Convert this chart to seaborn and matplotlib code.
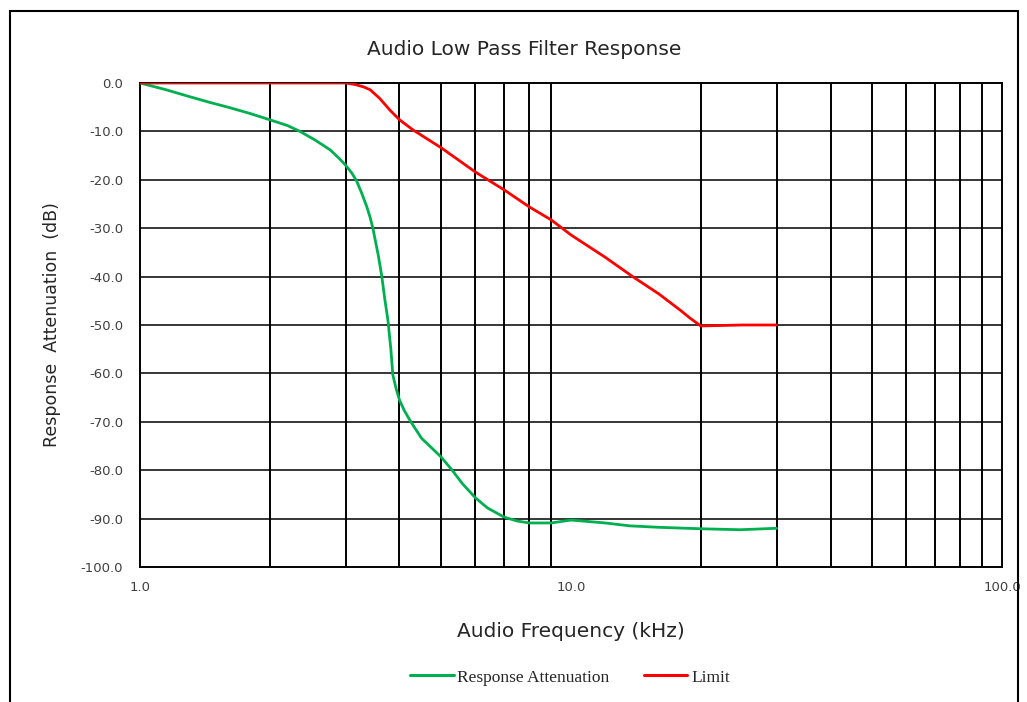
import matplotlib
matplotlib.use("Agg")
import matplotlib.pyplot as plt
import numpy as np
import pandas as pd
import seaborn as sns
from matplotlib.patches import Rectangle
from matplotlib.lines import Line2D

# response attenuation (kHz, dB)
resp_freq = [1.0, 1.15, 1.3, 1.45, 1.6, 1.8, 2.0, 2.2, 2.35, 2.55, 2.76, 2.9, 3.0,
             3.1, 3.18, 3.27, 3.36, 3.42, 3.47, 3.52, 3.57, 3.64, 3.70, 3.76, 3.82,
             3.86, 3.93, 4.0, 4.1, 4.25, 4.5, 4.75, 5.0, 5.3, 5.6, 6.0, 6.4, 7.0,
             7.5, 8.0, 9.0, 10.0, 12.0, 13.7, 16.0, 20.0, 24.7, 30.0]
resp_db = [0.0, -1.4, -2.8, -4.0, -5.0, -6.3, -7.6, -8.8, -10.0, -11.8, -13.8,
           -15.6, -17.0, -18.6, -20.2, -22.8, -25.6, -27.8, -30.0, -32.8, -35.5,
           -40.0, -44.8, -49.0, -55.0, -60.3, -63.2, -65.5, -67.6, -70.0, -73.4,
           -75.4, -77.3, -80.0, -82.8, -85.7, -87.8, -89.7, -90.5, -90.9, -90.9,
           -90.3, -90.9, -91.5, -91.8, -92.1, -92.3, -92.0]

# limit mask (kHz, dB)
limit_freq = [1.0, 2.0, 2.8, 3.0, 3.15, 3.3, 3.42, 3.6, 3.8, 4.0, 4.3, 5.0, 6.0,
              7.0, 8.0, 9.0, 10.0, 12.0, 13.9, 16.0, 17.9, 18.9, 20.0, 25.0, 30.0]
limit_db = [0.0, 0.0, 0.0, 0.0, -0.3, -0.8, -1.4, -3.2, -5.6, -7.6, -9.7, -13.4,
            -18.4, -22.1, -25.6, -28.3, -31.4, -36.0, -40.0, -43.6, -46.9, -48.6,
            -50.2, -50.0, -50.0]

y_ticks = np.arange(-100, 1, 10)

df = pd.concat([
    pd.DataFrame({"freq": resp_freq, "db": resp_db, "series": "Response Attenuation"}),
    pd.DataFrame({"freq": limit_freq, "db": limit_db, "series": "Limit"}),
])

sns.set_style("white")
fig = plt.figure(figsize=(10.27, 7.02), dpi=100)
ax = fig.add_axes([0.1363, 0.1923, 0.8394, 0.6895])

sns.lineplot(data=df, x="freq", y="db", hue="series", sort=False,
             palette={"Response Attenuation": "#00B050", "Limit": "#FF0000"},
             linewidth=2.0, legend=False, ax=ax, zorder=3)

ax.set_xscale("log")
ax.set_xlim(1, 100)
ax.set_ylim(-100, 0)

# black grid on every decade subdivision
for f in list(range(2, 10)) + list(range(20, 100, 10)):
    ax.axvline(f, color="black", lw=1.4, zorder=1)
for v in y_ticks[1:-1]:
    ax.axhline(v, color="black", lw=1.1, zorder=1)
for s in ax.spines.values():
    s.set_color("black")
    s.set_linewidth(1.4)

ax.set_xticks([1, 10, 100])
ax.set_xticklabels(["1.0", "10.0", "100.0"])
ax.xaxis.set_minor_locator(matplotlib.ticker.NullLocator())
ax.set_yticks(y_ticks)
ax.set_yticklabels([f"{v:.1f}" for v in y_ticks])
ax.tick_params(axis="both", length=0, labelsize=9.5, labelcolor="#404040")
ax.tick_params(axis="x", pad=10)
ax.tick_params(axis="y", pad=12)

ax.set_xlabel("Audio Frequency (kHz)", fontsize=14.5, color="#262626", labelpad=20)
ax.set_ylabel("Response  Attenuation  (dB)", fontsize=12.5, color="#262626", labelpad=14)
fig.text(0.51, 0.929, "Audio Low Pass Filter Response", fontsize=14.5,
         color="#262626", ha="center", va="center")

handles = [Line2D([], [], color="#00B050", lw=2.2),
           Line2D([], [], color="#FF0000", lw=2.2)]
fig.legend(handles, ["Response Attenuation", "Limit"], loc="center",
           bbox_to_anchor=(0.555, 0.035), ncol=2, frameon=False,
           prop={"family": "Liberation Serif", "size": 12.5},
           handlelength=2.5, handletextpad=0.2, columnspacing=2.0)

fig.patches.append(Rectangle((10 / 1027, -0.05), 1008 / 1027, 1.05 - 11 / 702,
                             transform=fig.transFigure, fill=False,
                             edgecolor="black", lw=1.5))

fig.savefig("out.png", dpi=100)
